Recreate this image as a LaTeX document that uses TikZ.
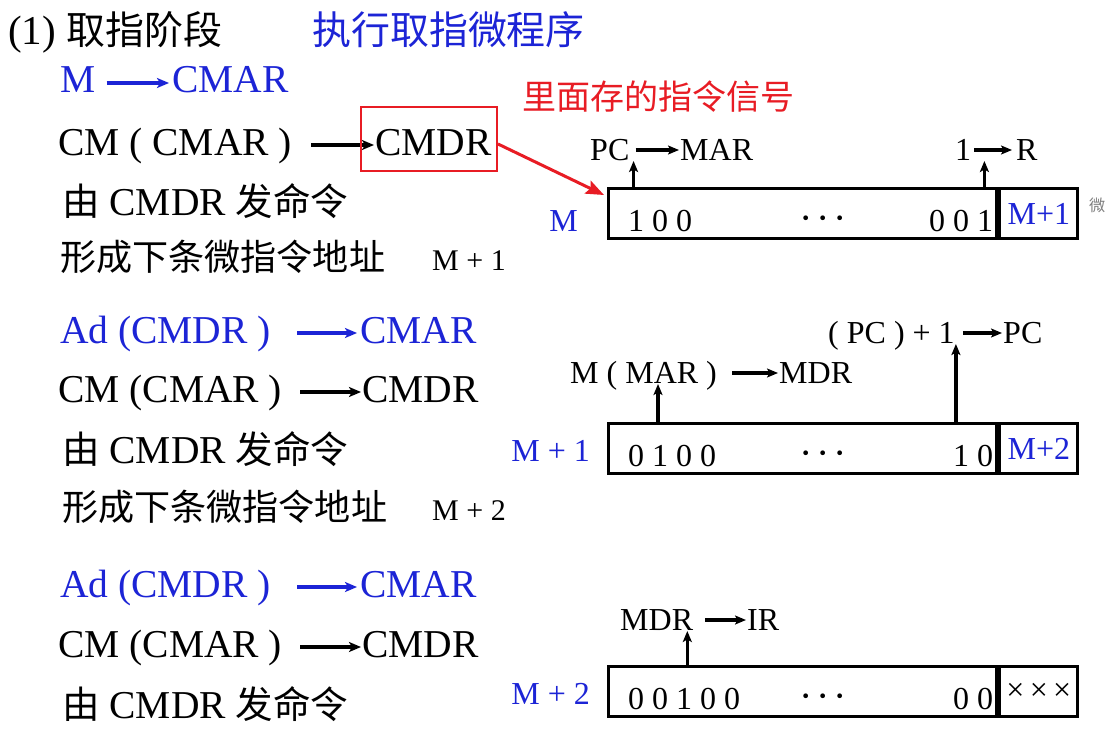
\documentclass[tikz,border=0pt]{standalone}
\usepackage{fontspec}
\setmainfont{Liberation Serif}
\newfontfamily\cjk[Scale=0.95]{Noto Sans CJK SC}
\usetikzlibrary{arrows.meta,calc}
\definecolor{lblue}{RGB}{28,36,214}
\definecolor{hlred}{RGB}{232,28,36}
\newcommand{\ellip}{·\kern3.5pt·\kern3.5pt·}
\begin{document}
\begin{tikzpicture}[x=1pt,y=-1pt,
  every node/.style={inner sep=0pt, anchor=base west},
  ttl/.style={font=\fontsize{41}{46}\selectfont},
  big/.style={font=\fontsize{39.5}{44}\selectfont},
  zh/.style={font=\fontsize{38}{44}\selectfont},
  mid/.style={font=\fontsize{32}{38}\selectfont},
  sml/.style={font=\fontsize{30}{36}\selectfont},
  dots/.style={font=\fontsize{40}{44}\selectfont, anchor=base},
  hue/.style={text=lblue},
  flow/.style={-{Stealth[length=12pt,width=10pt,inset=3pt]}, line width=3.2pt},
  tap/.style={-{Stealth[length=11pt,width=9pt,inset=2.5pt]}, line width=3.2pt},
  word/.style={draw, line width=3.2pt, minimum height=50pt, anchor=north west, inner sep=0pt},
]
\fill[white] (0,0) rectangle (1107,741);
\useasboundingbox (0,0) rectangle (1107,741);

% ---------- heading ----------
\node[ttl] (s1) at (8,45) {(1) {\cjk 取指阶段}};
\node[ttl,hue] (s2) at (312,45) {\cjk 执行取指微程序};

% ---------- first micro-instruction (left) ----------
\node[big,hue] (l1a) at (60,93) {M};
\node[big,hue] (l1b) at (172,93) {CMAR};
\draw[flow,lblue] ($(l1a.base east)+(11,-10)$) -- ($(l1b.base west)+(-3,-10)$);

\node[big] (l2a) at (58,155) {CM ( CMAR )};
\node[big] (l2b) at (375,155) {CMDR};
\draw[flow] ($(l2a.base east)+(19,-10)$) -- ($(l2b.base west)+(-1,-10)$);
\node[draw=hlred, line width=2pt, minimum width=136pt, minimum height=64pt, anchor=center] (hl) at (429,139) {};

\node[big] (l3) at (62,215) {{\cjk 由} CMDR {\cjk 发命令}};
\node[zh] (l4) at (60,270) {\cjk 形成下条微指令地址};
\node[sml] (l4m) at (432,270) {M + 1};

% ---------- second micro-instruction (left) ----------
\node[big,hue] (l5a) at (60,343) {Ad (CMDR )};
\node[big,hue] (l5b) at (360,343) {CMAR};
\draw[flow,lblue] ($(l5a.base east)+(26,-10)$) -- ($(l5b.base west)+(-3,-10)$);

\node[big] (l6a) at (58,402) {CM (CMAR )};
\node[big] (l6b) at (362,402) {CMDR};
\draw[flow] ($(l6a.base east)+(18,-10)$) -- ($(l6b.base west)+(-1,-10)$);

\node[big] (l7) at (62,463) {{\cjk 由} CMDR {\cjk 发命令}};
\node[zh] (l8) at (62,520) {\cjk 形成下条微指令地址};
\node[sml] (l8m) at (432,520) {M + 2};

% ---------- third micro-instruction (left) ----------
\node[big,hue] (l9a) at (60,597) {Ad (CMDR )};
\node[big,hue] (l9b) at (360,597) {CMAR};
\draw[flow,lblue] ($(l9a.base east)+(26,-10)$) -- ($(l9b.base west)+(-3,-10)$);

\node[big] (l10a) at (58,657) {CM (CMAR )};
\node[big] (l10b) at (362,657) {CMDR};
\draw[flow] ($(l10a.base east)+(18,-10)$) -- ($(l10b.base west)+(-1,-10)$);

\node[big] (l11) at (62,718) {{\cjk 由} CMDR {\cjk 发命令}};

% ---------- micro-instruction word at M ----------
\node[word, minimum width=388pt] (b1) at (607,187) {};
\node[word, minimum width=78pt, mid, hue] (c1) at (b1.north east) {M+1};
\node[mid] (b1l) at ($(b1.south west)+(21,-9)$) {1 0 0};
\node[dots] (b1d) at ($(b1.south west)+(216,-9)$) {\ellip};
\node[mid, anchor=base east] (b1r) at ($(b1.south east)+(-5,-9)$) {0 0 1};
\node[mid, hue, anchor=base east] (a1) at ($(b1.south west)+(-29,-9)$) {M};
\node[font=\cjk\fontsize{17}{20}\selectfont, text=gray] (cut) at (1089,211) {微};

\node[mid] (pc1) at (590,160) {PC};
\node[mid] (mar1) at (680,160) {MAR};
\draw[tap] ($(pc1.base east)+(6,-10)$) -- ($(mar1.base west)+(-1,-10)$);
\coordinate (t1) at ($(pc1.base east)+(4,1)$);
\draw[tap] (b1.north -| t1) -- (t1);

\node[mid] (one1) at (955,160) {1};
\node[mid] (r1) at (1016,160) {R};
\draw[tap] ($(one1.base east)+(3,-10)$) -- ($(r1.base west)+(-4,-10)$);
\coordinate (t2) at ($(one1.base east)+(13,1)$);
\draw[tap] (b1.north -| t2) -- (t2);

\node[font=\cjk\fontsize{35.8}{40}\selectfont, text=hlred] (note) at (522,110) {里面存的指令信号};
\draw[hlred, line width=3pt, -{Stealth[length=18pt,width=14pt,inset=3pt]}] ($(hl.east)+(0,5)$) -- ($(b1.north west)+(-3,8)$);

% ---------- micro-instruction word at M+1 ----------
\node[word, minimum width=388pt] (b2) at (607,422) {};
\node[word, minimum width=78pt, mid, hue] (c2) at (b2.north east) {M+2};
\node[mid] (b2l) at ($(b2.south west)+(21,-9)$) {0 1 0 0};
\node[dots] (b2d) at ($(b2.south west)+(216,-9)$) {\ellip};
\node[mid, anchor=base east] (b2r) at ($(b2.south east)+(-5,-9)$) {1 0};
\node[mid, hue, anchor=base east] (a2) at ($(b2.south west)+(-17,-14)$) {M + 1};

\node[mid] (mam) at (570,383) {M ( MAR )};
\node[mid] (mdr2) at (779,383) {MDR};
\draw[tap] ($(mam.base east)+(15,-10)$) -- ($(mdr2.base west)+(-1,-10)$);
\coordinate (t3) at ($(mam.base west)+(88,1)$);
\draw[tap] (b2.north -| t3) -- (t3);

\node[mid] (pcp) at (828,343) {( PC ) + 1};
\node[mid] (pc2) at (1003,343) {PC};
\draw[tap] ($(pcp.base east)+(8,-10)$) -- ($(pc2.base west)+(-1,-10)$);
\coordinate (t4) at ($(pcp.base east)+(1,1)$);
\draw[tap] (b2.north -| t4) -- (t4);

% ---------- micro-instruction word at M+2 ----------
\node[word, minimum width=388pt] (b3) at (607,665) {};
\node[word, minimum width=78pt, mid] (c3) at (b3.north east) {×\,×\,×};
\node[mid] (b3l) at ($(b3.south west)+(21,-9)$) {0 0 1 0 0};
\node[dots] (b3d) at ($(b3.south west)+(216,-9)$) {\ellip};
\node[mid, anchor=base east] (b3r) at ($(b3.south east)+(-5,-9)$) {0 0};
\node[mid, hue, anchor=base east] (a3) at ($(b3.south west)+(-17,-14)$) {M + 2};

\node[mid] (mdr3) at (620,630) {MDR};
\node[mid] (ir3) at (747,630) {IR};
\draw[tap] ($(mdr3.base east)+(12,-10)$) -- ($(ir3.base west)+(-1,-10)$);
\coordinate (t5) at ($(mdr3.base east)+(-6,1)$);
\draw[tap] (b3.north -| t5) -- (t5);
\end{tikzpicture}
\end{document}
